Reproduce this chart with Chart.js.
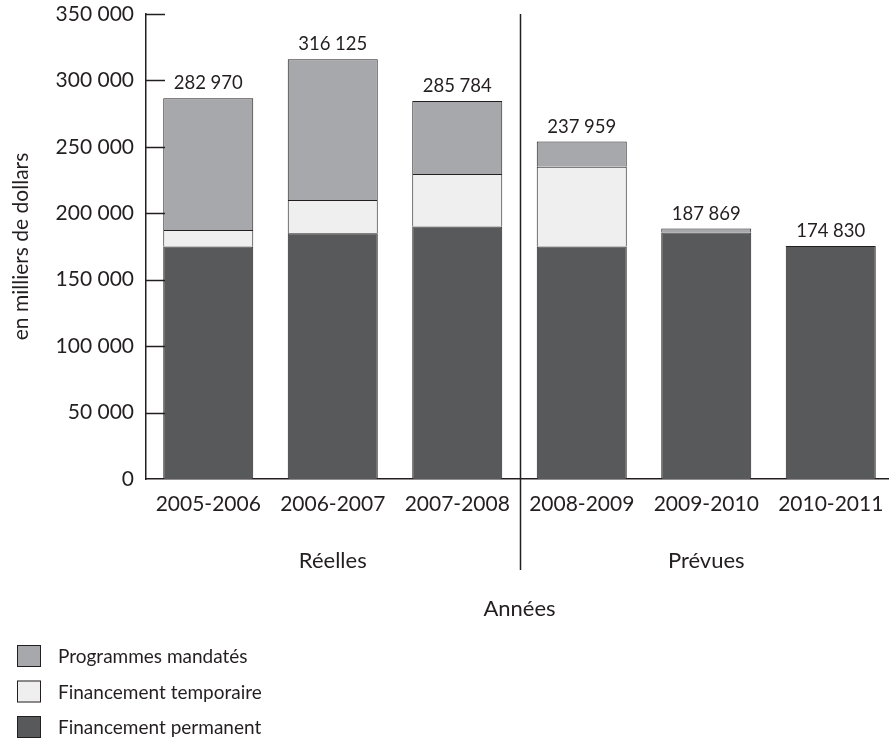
<!DOCTYPE html>
<html lang="fr">
<head>
<meta charset="utf-8">
<title>Financement</title>
<script src="https://cdn.jsdelivr.net/npm/chart.js@4/dist/chart.umd.min.js"></script>
<style>
  html, body { margin: 0; padding: 0; background: #fff; overflow: hidden; }
  #wrap { width: 893px; height: 742px; }
</style>
</head>
<body>
<div id="wrap"><canvas id="grafico" width="893" height="742"></canvas></div>
<script>
'use strict';

// ── Données ────────────────────────────────────────────────
const annees = ['2005-2006', '2006-2007', '2007-2008', '2008-2009', '2009-2010', '2010-2011'];
const permanent = [175000, 185000, 190000, 175000, 185500, 175400];
const temporaire = [12500, 25000, 39500, 60000, null, null];
const mandates = [99000, 106000, 55000, 19000, 3000, null];
const totaux = [282970, 316125, 285784, 237959, 187869, 174830];
const groupes = [
  { label: 'Réelles', from: 0, to: 2 },
  { label: 'Prévues', from: 3, to: 5 }
];
const legende = [
  { label: 'Programmes mandatés', color: '#a7a8ab' },
  { label: 'Financement temporaire', color: '#efefef' },
  { label: 'Financement permanent', color: '#58595b' }
];

const INK = '#231f20';
const FONT = 'Lato, "Open Sans", sans-serif';

function fmt(n) {
  return String(n).replace(/\B(?=(\d{3})+(?!\d))/g, ' ');
}

const extras = {
  id: 'extras',
  afterDraw(chart) {
    const ctx = chart.ctx;
    const x = chart.scales.x;
    const y = chart.scales.y;
    ctx.save();

    // graduations vers l'intérieur
    ctx.strokeStyle = INK;
    ctx.lineWidth = 1.5;
    y.ticks.forEach(t => {
      if (t.value === 0) return;
      const py = Math.round(y.getPixelForValue(t.value)) + 0.5;
      ctx.beginPath();
      ctx.moveTo(x.left, py);
      ctx.lineTo(x.left + 19, py);
      ctx.stroke();
    });

    // totaux au-dessus des barres
    ctx.fillStyle = INK;
    ctx.font = '18.5px ' + FONT;
    ctx.textAlign = 'center';
    ctx.textBaseline = 'alphabetic';
    annees.forEach((a, i) => {
      const sum = (permanent[i] || 0) + (temporaire[i] || 0) + (mandates[i] || 0);
      ctx.fillText(fmt(totaux[i]), x.getPixelForValue(i), y.getPixelForValue(sum) - 9);
    });

    // séparateur réelles / prévues
    const sepX = Math.round((x.getPixelForValue(2) + x.getPixelForValue(3)) / 2) + 0.5;
    ctx.lineWidth = 1.5;
    ctx.beginPath();
    ctx.moveTo(sepX, y.top);
    ctx.lineTo(sepX, 570);
    ctx.stroke();

    // libellés de groupe
    ctx.font = '22px ' + FONT;
    ctx.textBaseline = 'middle';
    groupes.forEach(g => {
      const cx = (x.getPixelForValue(g.from) + x.getPixelForValue(g.to)) / 2;
      ctx.fillText(g.label, cx, 561);
    });
    ctx.fillText('Années', (x.left + x.right) / 2, 609);

    // légende
    ctx.textAlign = 'left';
    ctx.font = '19px ' + FONT;
    legende.forEach((l, i) => {
      const top = 645 + i * 35.5;
      ctx.fillStyle = l.color;
      ctx.fillRect(17, top, 24, 22);
      ctx.strokeStyle = INK;
      ctx.lineWidth = 1;
      ctx.strokeRect(17.5, top + 0.5, 23, 21);
      ctx.fillStyle = INK;
      ctx.fillText(l.label, 58, top + 12);
    });

    ctx.restore();
  }
};

const ctx = document.getElementById('grafico').getContext('2d');

new Chart(ctx, {
  type: 'bar',
  data: {
    labels: annees,
    datasets: [
      { label: 'Financement permanent', data: permanent, backgroundColor: '#58595b' },
      { label: 'Financement temporaire', data: temporaire, backgroundColor: '#efefef' },
      { label: 'Programmes mandatés', data: mandates, backgroundColor: '#a7a8ab' }
    ].map(d => Object.assign(d, {
      borderColor: INK, borderWidth: 1, barPercentage: 0.723, categoryPercentage: 1
    }))
  },
  options: {
    responsive: false,
    animation: false,
    layout: { padding: { top: 14, left: 0, right: 0, bottom: 0 } },
    plugins: { legend: { display: false }, tooltip: { enabled: false } },
    scales: {
      x: {
        stacked: true,
        grid: { display: false, drawTicks: false },
        border: { display: true, color: INK, width: 1.5 },
        ticks: { color: INK, font: { family: FONT, size: 21 }, padding: 13, maxRotation: 0 },
        afterFit: s => { s.height = 263; s.paddingLeft = 0; s.paddingRight = 0; }
      },
      y: {
        stacked: true,
        min: 0, max: 350000,
        grid: { display: false, drawTicks: false },
        border: { display: true, color: INK, width: 1.5 },
        ticks: {
          stepSize: 50000, color: INK, padding: 12,
          font: { family: FONT, size: 21 },
          callback: v => fmt(v)
        },
        title: {
          display: true, text: 'en milliers de dollars', color: INK,
          font: { family: FONT, size: 21 }, padding: { top: 9, bottom: 0 }
        },
        afterFit: s => { s.width = 146; s.paddingTop = 0; s.paddingBottom = 0; }
      }
    }
  },
  plugins: [extras]
});
</script>
</body>
</html>
